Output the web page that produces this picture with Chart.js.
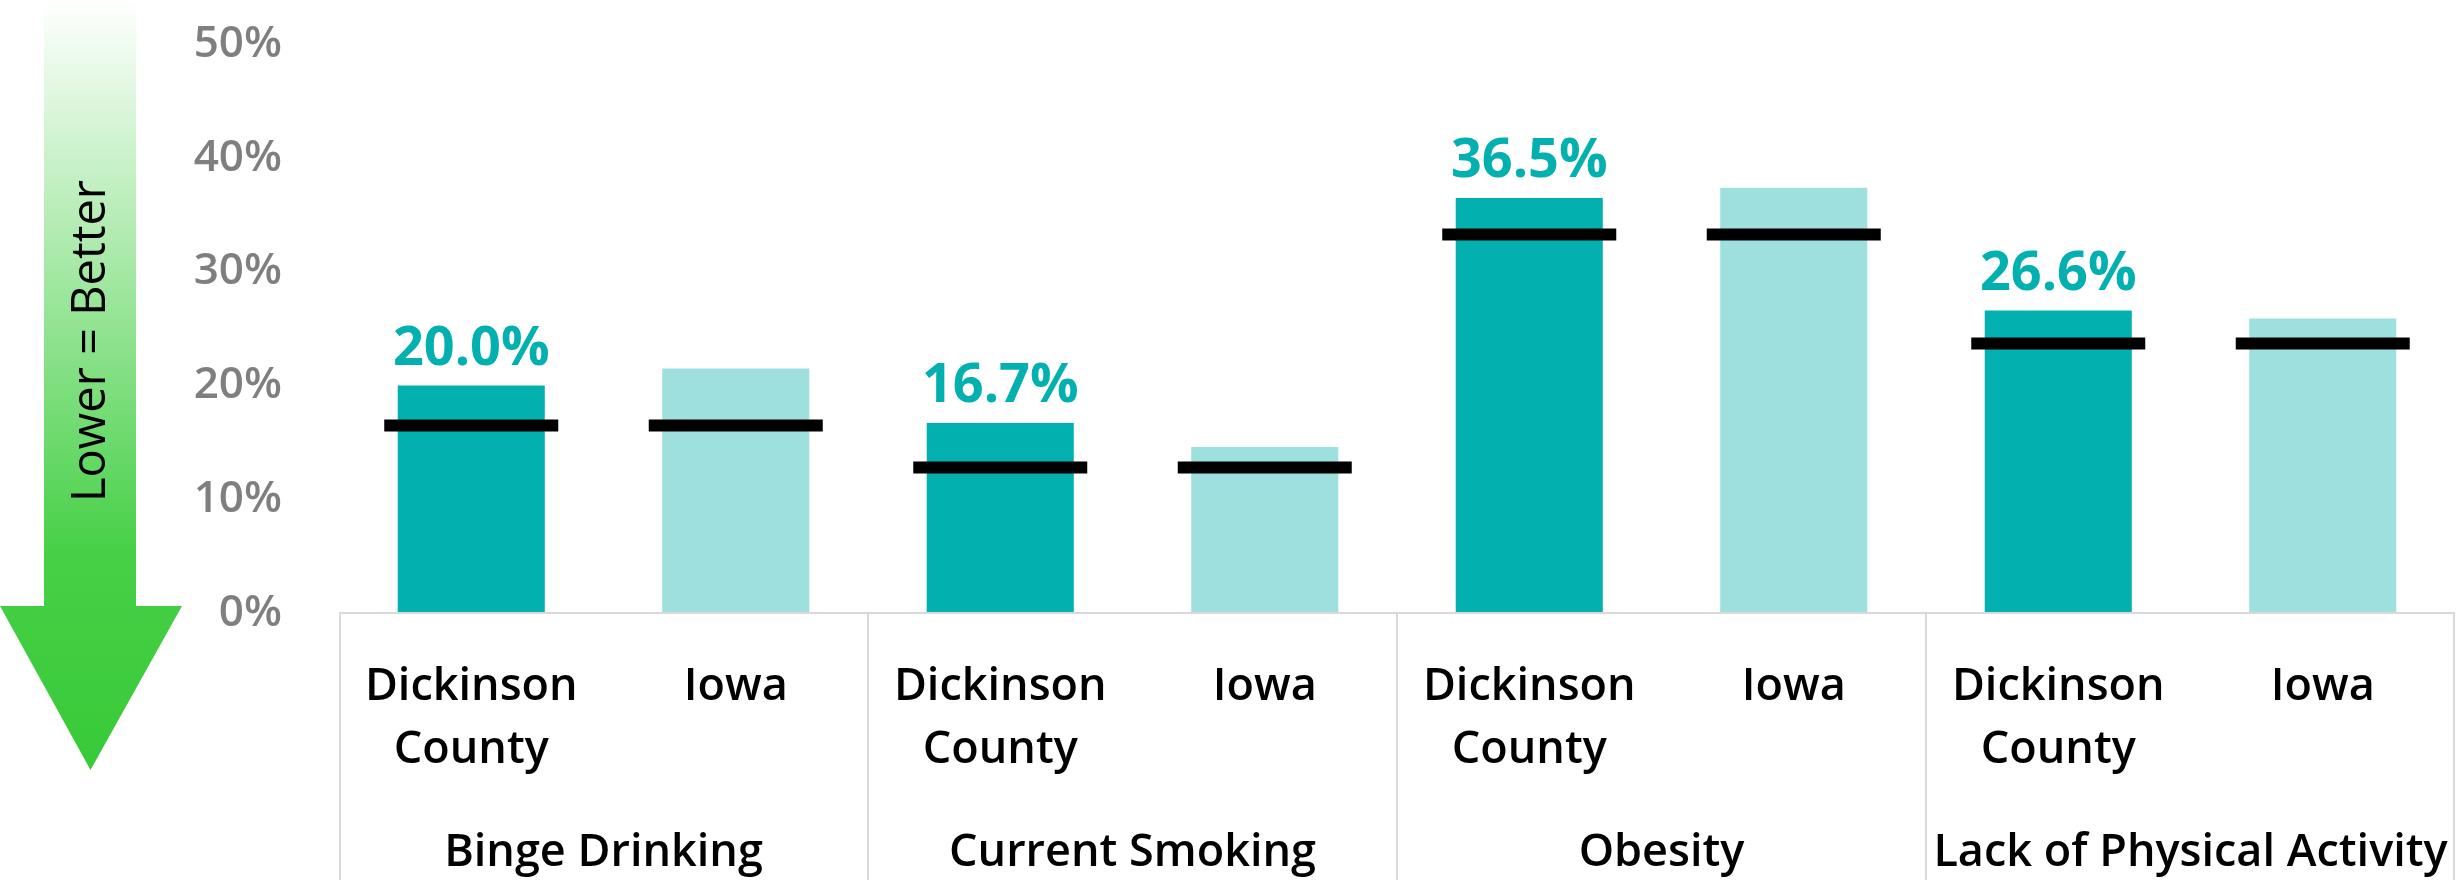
<!DOCTYPE html>
<html>
<head>
<meta charset="utf-8">
<title>Risk behaviours: Dickinson County vs Iowa</title>
<script src="https://cdn.jsdelivr.net/npm/chart.js@4.4.1/dist/chart.umd.min.js"></script>
<style>
  html, body { margin: 0; padding: 0; background: #ffffff; }
  #wrap { position: relative; width: 2458px; height: 880px; }
  canvas { display: block; }
</style>
</head>
<body>
<div id="wrap"><canvas id="chart" width="2458" height="880"></canvas></div>
<script>
// Measures (outer category level) and areas (inner category level)
const measures = ['Binge Drinking', 'Current Smoking', 'Obesity', 'Lack of Physical Activity'];
const areas = [['Dickinson', 'County'], ['Iowa']];

// Percent of adults, one value per measure
const dickinsonValues = [20.0, 16.7, 36.5, 26.6];
const iowaValues = [21.5, 14.6, 37.4, 25.9];
// Benchmark marker, shared by both bars of a measure
const benchmarkValues = [16.5, 12.8, 33.3, 23.7];

// Value axis ticks
const yTicks = [0, 10, 20, 30, 40, 50];

const FONT = "'Open Sans', 'Noto Sans', sans-serif";
const TEAL = '#02B1AF';
const TEAL_LIGHT = '#9DE0DE';

// Flatten the two-level category axis into one slot per bar
const labels = [];
const dickinsonSeries = [];
const iowaSeries = [];
const benchmarkSeries = [];
measures.forEach((m, i) => {
  labels.push(areas[0], areas[1]);
  dickinsonSeries.push(dickinsonValues[i], null);
  iowaSeries.push(null, iowaValues[i]);
  benchmarkSeries.push(benchmarkValues[i], benchmarkValues[i]);
});

// Green "Lower = Better" arrow in the left margin
const arrowPlugin = {
  id: 'arrow',
  beforeDraw(chart) {
    const c = chart.ctx;
    const cx = 90.5, shaftL = 44, shaftR = 136, headL = 0, headR = 182, headTop = 606, tip = 770;
    const g = c.createLinearGradient(0, 0, 0, tip);
    g.addColorStop(0, '#FFFFFF');
    g.addColorStop(0.72, '#46D046');
    g.addColorStop(1, '#38CA38');
    c.save();
    c.beginPath();
    c.moveTo(shaftL, 0);
    c.lineTo(shaftR, 0);
    c.lineTo(shaftR, headTop);
    c.lineTo(headR, headTop);
    c.lineTo(cx, tip);
    c.lineTo(headL, headTop);
    c.lineTo(shaftL, headTop);
    c.closePath();
    c.fillStyle = g;
    c.fill();
    c.translate(92, 341);
    c.rotate(-Math.PI / 2);
    c.font = `500 47px ${FONT}`;
    c.fillStyle = '#000000';
    c.textAlign = 'center';
    c.textBaseline = 'middle';
    c.fillText('Lower = Better', 0, 0);
    c.restore();
  }
};

// Axis box, group separators and outer category labels
const groupAxisPlugin = {
  id: 'groupAxis',
  afterDraw(chart) {
    const c = chart.ctx;
    const x = chart.scales.x;
    const area = chart.chartArea;
    const slot = x.width / labels.length;
    c.save();
    c.strokeStyle = '#D9D9D9';
    c.lineWidth = 2;
    c.beginPath();
    c.moveTo(area.left, area.bottom);
    c.lineTo(area.right, area.bottom);
    for (let g = 0; g <= measures.length; g++) {
      const px = Math.round(x.left + g * 2 * slot);
      const xx = Math.min(Math.max(px, area.left + 1), area.right - 1);
      c.moveTo(xx, area.bottom);
      c.lineTo(xx, chart.height);
    }
    c.stroke();
    c.font = `600 45px ${FONT}`;
    c.fillStyle = '#000000';
    c.textAlign = 'center';
    c.textBaseline = 'middle';
    measures.forEach((m, g) => {
      const cx = (x.getPixelForValue(2 * g) + x.getPixelForValue(2 * g + 1)) / 2;
      c.fillText(m, cx, 853);
    });
    c.restore();
  }
};

// Value labels above the Dickinson County bars
const valueLabelPlugin = {
  id: 'valueLabels',
  afterDatasetsDraw(chart) {
    const c = chart.ctx;
    const meta = chart.getDatasetMeta(1);
    const data = chart.data.datasets[1].data;
    c.save();
    c.font = `700 54px ${FONT}`;
    c.fillStyle = TEAL;
    c.textAlign = 'center';
    c.textBaseline = 'alphabetic';
    meta.data.forEach((el, i) => {
      const v = data[i];
      if (v === null || v === undefined) return;
      c.fillText(v.toFixed(1) + '%', el.x, el.y - 21);
    });
    c.restore();
  }
};

new Chart(document.getElementById('chart'), {
  type: 'bar',
  data: {
    labels: labels,
    datasets: [
      {
        type: 'line',
        label: 'Benchmark',
        data: benchmarkSeries,
        showLine: false,
        pointStyle: 'line',
        pointRadius: 87,
        pointHoverRadius: 87,
        pointBorderWidth: 12,
        pointHoverBorderWidth: 12,
        borderColor: '#000000',
        backgroundColor: '#000000',
        order: 0,
        clip: false
      },
      {
        label: 'Dickinson County',
        data: dickinsonSeries,
        backgroundColor: TEAL,
        skipNull: true,
        categoryPercentage: 1,
        barPercentage: 0.556,
        order: 1
      },
      {
        label: 'Iowa',
        data: iowaSeries,
        backgroundColor: TEAL_LIGHT,
        skipNull: true,
        categoryPercentage: 1,
        barPercentage: 0.556,
        order: 1
      }
    ]
  },
  options: {
    responsive: false,
    animation: false,
    events: [],
    layout: { autoPadding: false, padding: { top: 44.5, right: 3, bottom: 0, left: 0 } },
    plugins: {
      legend: { display: false },
      tooltip: { enabled: false }
    },
    scales: {
      x: {
        grid: { display: false },
        border: { display: false },
        ticks: {
          autoSkip: false,
          maxRotation: 0,
          minRotation: 0,
          padding: 35,
          color: '#000000',
          font: { family: FONT, size: 45, weight: '600', lineHeight: '63px' }
        },
        afterFit(scale) {
          scale.height = 267;
          scale.paddingLeft = 0;
          scale.paddingRight = 0;
        }
      },
      y: {
        stacked: false,
        min: yTicks[0],
        max: yTicks[yTicks.length - 1],
        grid: { display: false },
        border: { display: false },
        ticks: {
          stepSize: yTicks[1] - yTicks[0],
          padding: 49,
          color: '#7F7F7F',
          font: { family: FONT, size: 44, weight: '600' },
          callback: (v) => v + '%'
        },
        afterFit(scale) {
          scale.width = 339;
          scale.paddingTop = 0;
          scale.paddingBottom = 0;
        }
      }
    }
  },
  plugins: [arrowPlugin, groupAxisPlugin, valueLabelPlugin]
});
</script>
</body>
</html>
